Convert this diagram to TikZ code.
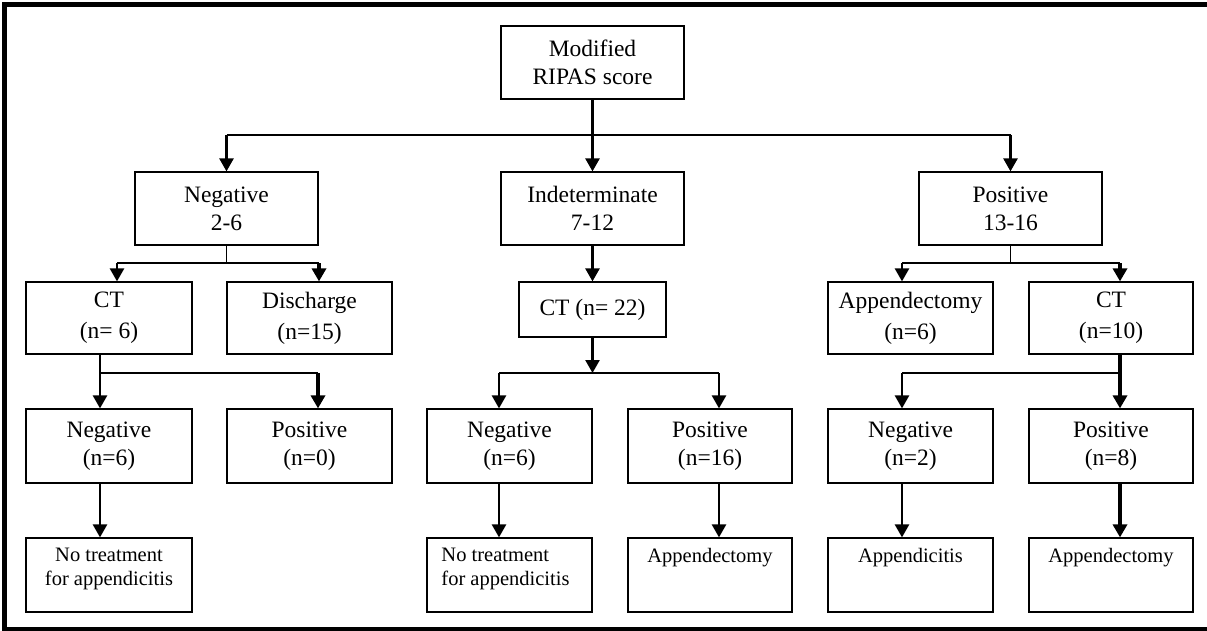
\documentclass[tikz,border=0pt]{standalone}
\usepackage{fontspec}
\setmainfont{Liberation Serif}
\usetikzlibrary{arrows.meta,calc}
\begin{document}
\begin{tikzpicture}[x=1pt,y=-1pt,
  bx/.style={draw,line width=1.2pt,inner sep=0pt,align=center,font=\fontsize{23.5}{28}\selectfont},
  bxb/.style={bx,font=\fontsize{23.5}{31}\selectfont},
  tf/.style={inner sep=0pt,align=center,anchor=north,font=\fontsize{20.5}{24}\selectfont},
  thinln/.style={line width=1.2pt},
  arr/.style={line width=2.5pt,-{Triangle[length=13pt 0 0,width=14pt 0 0]}},
  arrb/.style={line width=3.5pt,-{Triangle[length=13pt 0 0,width=14pt 0 0]}},
  frame/.style={line width=5pt,line join=miter}]
\useasboundingbox (0,0) rectangle (1207,631);
\draw[frame] (1207,4.5) -- (4,4.5) -- (4,629.5) -- (1207,629.5);

% level 0 and 1
\node[bx,minimum width=183pt,minimum height=73pt] (top) at (592.5,62.5) {Modified\\RIPAS score};
\node[bx,minimum width=183pt,minimum height=73pt] (neg1) at (226.5,208.5) {Negative\\2-6};
\node[bx,minimum width=183pt,minimum height=73pt] (ind1) at (592.5,208.5) {Indeterminate\\7-12};
\node[bx,minimum width=183pt,minimum height=73pt] (pos1) at (1010.5,208.5) {Positive\\13-16};

% level 2
\node[bxb,minimum width=166pt,minimum height=72pt] (ct1) at (109,318) {CT\\(n= 6)};
\node[bxb,minimum width=165pt,minimum height=72pt] (dis) at (309.5,318) {Discharge\\(n=15)};
\node[bx,minimum width=147pt,minimum height=55pt] (ct2) at (592.5,309.5) {CT (n= 22)};
\node[bxb,minimum width=165pt,minimum height=72pt] (app2) at (910.5,318) {Appendectomy\\(n=6)};
\node[bxb,minimum width=164pt,minimum height=72pt] (ct3) at (1111,318) {CT\\(n=10)};

% level 3
\node[bx,minimum width=166pt,minimum height=74pt] (neg3a) at (109,446) {Negative\\(n=6)};
\node[bx,minimum width=165pt,minimum height=74pt] (pos3a) at (309.5,446) {Positive\\(n=0)};
\node[bx,minimum width=165pt,minimum height=74pt] (neg3b) at (509.5,446) {Negative\\(n=6)};
\node[bx,minimum width=164pt,minimum height=74pt] (pos3b) at (710,446) {Positive\\(n=16)};
\node[bx,minimum width=165pt,minimum height=74pt] (neg3c) at (910.5,446) {Negative\\(n=2)};
\node[bx,minimum width=164pt,minimum height=74pt] (pos3c) at (1111,446) {Positive\\(n=8)};

% level 4
\node[bx,minimum width=166pt,minimum height=74pt] (nt1) at (109,575) {};
\node[bx,minimum width=165pt,minimum height=74pt] (nt2) at (509.5,575) {};
\node[bx,minimum width=164pt,minimum height=74pt] (ap4b) at (710,575) {};
\node[bx,minimum width=165pt,minimum height=74pt] (ap4c1) at (910.5,575) {};
\node[bx,minimum width=164pt,minimum height=74pt] (ap4c2) at (1111,575) {};
\node[tf] (nt1t) at ($(nt1.north)+(0,10.5)$) {No treatment\\for appendicitis};
\node[tf,align=left] (nt2t) at ($(nt2.north)+(-4,10.5)$) {No treatment\\for appendicitis};
\node[tf] (ap4bt) at ($(ap4b.north)+(0,10.5)$) {Appendectomy};
\node[tf] (ap4c1t) at ($(ap4c1.north)+(0,10.5)$) {Appendicitis};
\node[tf] (ap4c2t) at ($(ap4c2.north)+(0,10.5)$) {Appendectomy};

% connectors top
\coordinate (h0) at (592.5,135);
\draw[arr] (top.south) -- (ind1.north);
\draw[thinln] (neg1.north |- h0) -- (pos1.north |- h0);
\draw[arr] (neg1.north |- h0) -- (neg1.north);
\draw[arr] (pos1.north |- h0) -- (pos1.north);

% left branch
\coordinate (a1) at (117,263);
\coordinate (a2) at (319,263);
\draw[thinln] (neg1.south) -- (neg1.south |- a1);
\draw[thinln] (a1) -- (a2);
\draw[arr] (a1) -- (a1 |- ct1.north);
\draw[arrb] (a2) -- (a2 |- dis.north);
\coordinate (c1) at (100,373);
\coordinate (c2) at (318,373);
\draw[arr] (c1 |- ct1.south) -- (c1 |- neg3a.north);
\draw[thinln] (c1) -- (c2);
\draw[arrb] (c2) -- (c2 |- pos3a.north);
\draw[arr] (c1 |- neg3a.south) -- (c1 |- nt1.north);

% middle branch
\draw[arr] (ind1.south) -- (ct2.north);
\coordinate (h2) at (592.5,373);
\draw[arr] (ct2.south) -- (h2);
\coordinate (b1) at (499,373);
\coordinate (b2) at (719,373);
\draw[thinln] (b1) -- (b2);
\draw[arr] (b1) -- (b1 |- neg3b.north);
\draw[arr] (b2) -- (b2 |- pos3b.north);
\draw[arr] (b1 |- neg3b.south) -- (b1 |- nt2.north);
\draw[arr] (b2 |- pos3b.south) -- (b2 |- ap4b.north);

% right branch
\coordinate (d1) at (902,263);
\coordinate (d2) at (1120,263);
\draw[thinln] (pos1.south) -- (pos1.south |- d1);
\draw[thinln] (d1) -- (d2);
\draw[arr] (d1) -- (d1 |- app2.north);
\draw[arrb] (d2) -- (d2 |- ct3.north);
\coordinate (e1) at (902,373);
\coordinate (e2) at (1120,373);
\draw[arrb] (e2 |- ct3.south) -- (e2 |- pos3c.north);
\draw[thinln] (e1) -- (e2);
\draw[arr] (e1) -- (e1 |- neg3c.north);
\draw[arr] (e1 |- neg3c.south) -- (e1 |- ap4c1.north);
\draw[arrb] (e2 |- pos3c.south) -- (e2 |- ap4c2.north);
\end{tikzpicture}
\end{document}
